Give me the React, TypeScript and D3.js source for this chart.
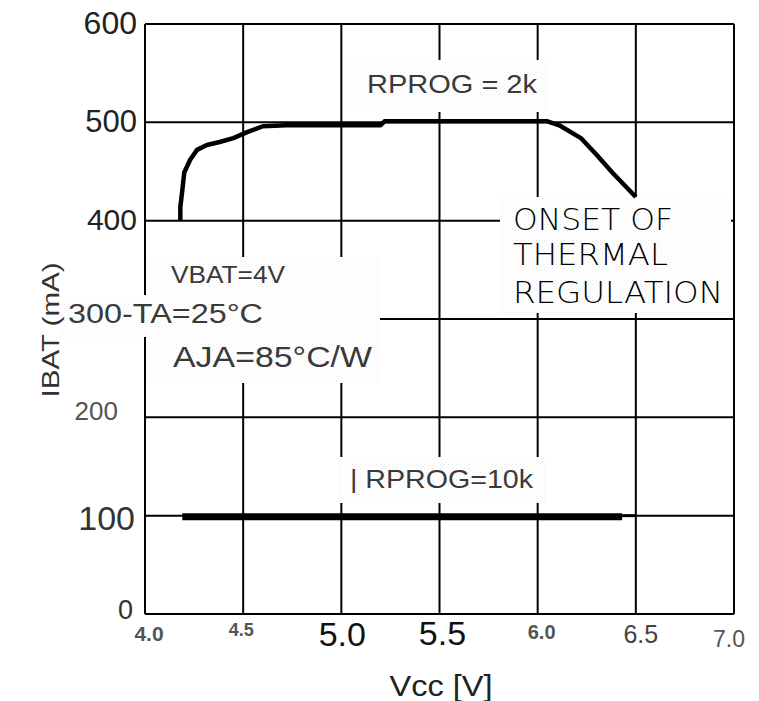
import React from "react";
import * as d3 from "d3";

// chart values
const xTicks = [4.0, 4.5, 5.0, 5.5, 6.0, 6.5, 7.0];
const yTicks = [0, 100, 200, 400, 500, 600];
const gridX = [4.5, 5.0, 5.5, 6.0, 6.5];
const gridY = [100, 200, 300, 400, 500];

// RPROG = 2k curve
const vcc2k = [4.18, 4.18, 4.19, 4.2, 4.23, 4.265, 4.315, 4.38, 4.45, 4.52, 4.6, 4.72, 5.2, 5.22, 6.05, 6.11, 6.22, 6.3, 6.38, 6.5];
const ibat2k = [400, 414, 431, 449, 462, 472, 477, 480, 484, 490, 496, 497, 497, 501, 501, 497, 484, 467, 449, 424];

// RPROG = 10k line
const vcc10k = [4.19, 6.43];
const ibat10k = [99, 99];
const vcc10kTail = [6.43, 6.5];
const ibat10kTail = [100, 100];

const W = 759;
const H = 701;
const margin = { top: 24, right: 25, bottom: 87, left: 145 };

// per-tick look of the (pasted together) tick labels
const xTickStyle: Record<string, { size: number; dx: number; dy: number; fill: string; weight: number }> = {
  "4.0": { size: 21, dx: 4, dy: 21, fill: "#555", weight: 700 },
  "4.5": { size: 18, dx: -2, dy: 17, fill: "#555", weight: 700 },
  "5.0": { size: 34, dx: 1, dy: 23, fill: "#111", weight: 400 },
  "5.5": { size: 34, dx: 3, dy: 22, fill: "#111", weight: 400 },
  "6.0": { size: 20, dx: 4, dy: 20, fill: "#555", weight: 700 },
  "6.5": { size: 25, dx: 5, dy: 22, fill: "#444", weight: 400 },
  "7.0": { size: 23, dx: -5, dy: 27, fill: "#555", weight: 400 },
};
const yTickStyle: Record<string, { size: number; right: number; dy: number; fill: string }> = {
  "600": { size: 32, right: 137, dy: 2, fill: "#222" },
  "500": { size: 31, right: 137, dy: 1, fill: "#222" },
  "400": { size: 30, right: 137, dy: 1, fill: "#222" },
  "200": { size: 26, right: 118, dy: -4, fill: "#555" },
  "100": { size: 34, right: 135, dy: 5, fill: "#333" },
  "0": { size: 27, right: 133, dy: -2, fill: "#333" },
};

// white label boxes that break the grid
const boxes = [
  { x: 350, y: 60, w: 200, h: 52 },
  { x: 150, y: 257, w: 230, h: 126 },
  { x: 60, y: 295, w: 215, h: 42 },
  { x: 500, y: 197, w: 231, h: 116 },
  { x: 338, y: 457, w: 207, h: 46 },
];

const font = "'Liberation Sans', Arial, sans-serif";
const fit = "spacingAndGlyphs";

export default function App() {
  const x = d3.scaleLinear().domain([4, 7]).range([margin.left, W - margin.right]);
  const y = d3.scaleLinear().domain([0, 600]).range([H - margin.bottom, margin.top]);

  const line = d3
    .line<[number, number]>()
    .x((d) => x(d[0]))
    .y((d) => y(d[1]));

  const pts2k = vcc2k.map((v, i) => [v, ibat2k[i]] as [number, number]);
  const pts10k = vcc10k.map((v, i) => [v, ibat10k[i]] as [number, number]);
  const pts10kTail = vcc10kTail.map((v, i) => [v, ibat10kTail[i]] as [number, number]);

  const x0 = x(4), x1 = x(7), y0 = y(0), y1 = y(600);

  return (
    <svg width={W} height={H} style={{ position: "absolute", left: 0, top: 0, background: "#fff" }}>
      <defs>
        <pattern id="halftone" width="4" height="4" patternUnits="userSpaceOnUse">
          <rect width="4" height="4" fill="#fff" />
          <rect x="0" y="0" width="1" height="1" fill="#ececec" />
          <rect x="2" y="2" width="1" height="1" fill="#ececec" />
        </pattern>
      </defs>

      {/* grid */}
      <g stroke="#000" strokeWidth={2}>
        {gridX.map((v) => (
          <line key={"gx" + v} x1={x(v)} x2={x(v)} y1={y1} y2={y0} />
        ))}
        {gridY.map((v) => (
          <line key={"gy" + v} x1={x0} x2={x1} y1={y(v)} y2={y(v)} />
        ))}
        <line x1={x0} x2={x0} y1={y1} y2={y0} />
      </g>

      {/* label boxes */}
      {boxes.map((b, i) => (
        <rect key={"b" + i} x={b.x} y={b.y} width={b.w} height={b.h} fill="url(#halftone)" />
      ))}

      {/* frame */}
      <g stroke="#000" strokeWidth={2} fill="none">
        <line x1={x0} x2={x1} y1={y1} y2={y1} />
        <line x1={x1} x2={x1} y1={y1} y2={y0} />
        <line x1={x0} x2={x1} y1={y0} y2={y0} />
      </g>

      {/* curves */}
      <path d={line(pts2k) || ""} fill="none" stroke="#000" strokeWidth={4.5} strokeLinejoin="round" />
      <path d={line(pts10k) || ""} fill="none" stroke="#000" strokeWidth={7} />
      <path d={line(pts10kTail) || ""} fill="none" stroke="#000" strokeWidth={3} />

      {/* tick labels */}
      <g fontFamily={font}>
        {xTicks.map((v) => {
          const k = v.toFixed(1);
          const s = xTickStyle[k];
          return (
            <text
              key={"xt" + k}
              x={x(v) + s.dx}
              y={y0 + s.dy}
              fontSize={s.size}
              fontWeight={s.weight}
              fill={s.fill}
              textAnchor="middle"
              dominantBaseline="middle"
            >
              {k}
            </text>
          );
        })}
        {yTicks.map((v) => {
          const k = String(v);
          const s = yTickStyle[k];
          return (
            <text
              key={"yt" + k}
              x={s.right}
              y={y(v) + s.dy}
              fontSize={s.size}
              fill={s.fill}
              textAnchor="end"
              dominantBaseline="middle"
            >
              {k}
            </text>
          );
        })}
      </g>

      {/* axis titles */}
      <text x={441} y={696} fontFamily={font} fontSize={30} fill="#222" textAnchor="middle" textLength={103} lengthAdjust={fit}>
        Vcc [V]
      </text>
      <text
        transform="translate(59,330) rotate(-90)"
        fontFamily={font}
        fontSize={24}
        fill="#333"
        textAnchor="middle"
        textLength={135}
        lengthAdjust={fit}
      >
        IBAT (mA)
      </text>

      {/* annotations */}
      <g fontFamily={font} fill="#3a3a3a">
        <text x={367} y={93} fontSize={26} textLength={170} lengthAdjust={fit}>RPROG = 2k</text>
        <text x={171} y={283} fontSize={24} textLength={114} lengthAdjust={fit}>VBAT=4V</text>
        <text x={68} y={323} fontSize={27} textLength={195} lengthAdjust={fit}>300-TA=25°C</text>
        <text x={173} y={367} fontSize={30} textLength={199} lengthAdjust={fit}>AJA=85°C/W</text>
        <text x={350} y={488} fontSize={26} textLength={183} lengthAdjust={fit}>| RPROG=10k</text>
      </g>
      <g fontFamily="'DejaVu Sans', sans-serif" fontWeight={200} fill="#000" fontSize={31}>
        <text x={513} y={230} textLength={160} lengthAdjust={fit}>ONSET OF</text>
        <text x={513} y={265} textLength={155} lengthAdjust={fit}>THERMAL</text>
        <text x={513} y={303} textLength={210} lengthAdjust={fit}>REGULATION</text>
      </g>
    </svg>
  );
}
